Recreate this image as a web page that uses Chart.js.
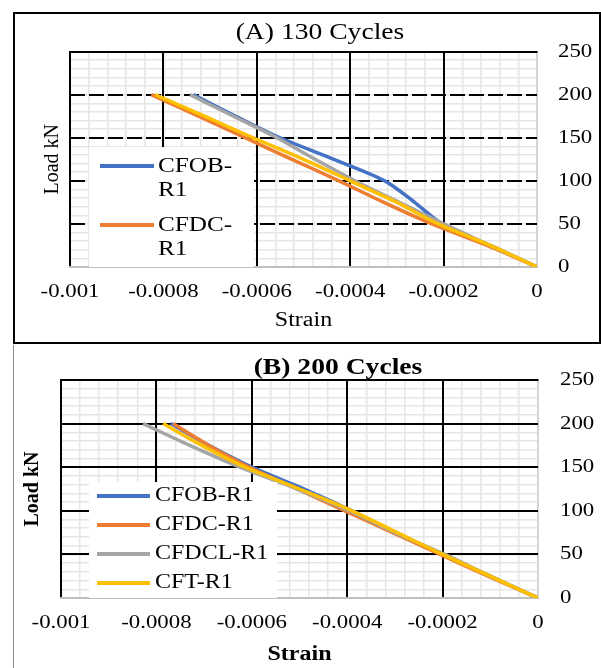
<!DOCTYPE html>
<html lang="en">
<head>
<meta charset="UTF-8">
<title>Load - Strain</title>
<script src="https://cdn.jsdelivr.net/npm/chart.js@4.4.1/dist/chart.umd.min.js"></script>
<style>
  body { margin: 0; width: 601px; height: 668px; overflow: hidden; background: #fff; position: relative; }
  canvas, .frame { position: absolute; }
  #frameA { left: 13px; top: 12px; width: 588px; height: 332px; border: 2px solid #000; box-sizing: border-box; }
  #frameB { left: 13px; top: 345px; width: 588px; height: 330px; border-left: 1px solid #8c8c8c; box-sizing: border-box; }
  #chartA { left: 0; top: 0; }
  #chartB { left: 0; top: 343px; }
</style>
</head>
<body>
<div class="frame" id="frameA"></div>
<div class="frame" id="frameB"></div>
<canvas id="chartA" width="610" height="343"></canvas>
<canvas id="chartB" width="666" height="325"></canvas>
<script>
// series names, in legend order
const seriesNames = ['CFOB-R1', 'CFDC-R1', 'CFDCL-R1', 'CFT-R1'];
const seriesColors = ['#4472C4', '#ED7D31', '#A5A5A5', '#FFC000'];

// load steps (kN) shared by all curves
const loads = [0, 25, 50, 75, 100, 125, 150, 175, 200];

// (A) 130 cycles - strain at each load step
const strainA_CFOB  = [0, -0.0001,  -0.000203, -0.000262, -0.000326, -0.000435, -0.00055,  -0.000645, -0.000736];
const strainA_CFDC  = [0, -0.000107, -0.000225, -0.000328, -0.000424, -0.000525, -0.000625, -0.000725, -0.000826];
const strainA_CFDCL = [0, -0.0001,  -0.0002,   -0.000295, -0.00039,  -0.000475, -0.000557, -0.00065,  -0.000743];
const strainA_CFT   = [0, -0.0001,  -0.000212, -0.0003,   -0.0004,   -0.0005,   -0.000608, -0.000712, -0.000818];

// (B) 200 cycles
const strainB_CFOB  = [0, -0.0001,  -0.0002,   -0.0003,   -0.00039,  -0.00049,  -0.0006,   -0.00069,  -0.00077];
const strainB_CFDC  = [0, -0.000105, -0.000205, -0.000305, -0.000405, -0.000505, -0.000605, -0.00069,  -0.000765];
const strainB_CFDCL = [0, -0.0001,  -0.000195, -0.0003,   -0.000395, -0.000505, -0.000625, -0.00073,  -0.000828];
const strainB_CFT   = [0, -0.0001,  -0.0002,   -0.000295, -0.00039,  -0.0005,   -0.000614, -0.000705, -0.000786];

const xTickLabels = ['-0.001', '-0.0008', '-0.0006', '-0.0004', '-0.0002', '0'];
const yTickLabels = ['0', '50', '100', '150', '200', '250'];

const serif = "'Liberation Serif', 'Times New Roman', serif";

// the source figure is stretched sideways: widen horizontal text the same way
const textStretch = {
  id: 'textStretch',
  beforeInit(chart) {
    const ctx = chart.ctx;
    const orig = ctx.fillText.bind(ctx);
    ctx.fillText = function (text, x, y, maxWidth) {
      const m = ctx.getTransform();
      if (m.b !== 0 || m.c !== 0) return orig(text, x, y, maxWidth);
      ctx.save();
      ctx.translate(x, y);
      ctx.scale(1.2, 1);
      if (maxWidth === undefined) orig(text, 0, 0); else orig(text, 0, 0, maxWidth);
      ctx.restore();
    };
  }
};

// legend drawn inside the plot, clipped by the plot edges
const insideLegend = {
  id: 'insideLegend',
  afterDatasetsDraw(chart, args, o) {
    const { ctx, chartArea: a } = chart;
    ctx.save();
    ctx.beginPath();
    ctx.rect(a.left, a.top, a.right - a.left, a.bottom - a.top);
    ctx.clip();
    ctx.fillStyle = '#fff';
    ctx.fillRect(o.x, o.y, o.w, o.h);
    ctx.font = o.font;
    ctx.textBaseline = 'middle';
    ctx.textAlign = 'left';
    seriesNames.forEach((name, i) => {
      const y = o.y + o.first + i * o.step;
      ctx.strokeStyle = seriesColors[i];
      ctx.lineWidth = 4;
      ctx.beginPath();
      ctx.moveTo(o.x + o.lineStart, y);
      ctx.lineTo(o.x + o.lineEnd, y);
      ctx.stroke();
      ctx.fillStyle = '#000';
      const parts = o.wrap ? name.split(/(?<=-)/) : [name];
      parts.forEach((t, j) => ctx.fillText(t, o.x + o.textX, y + j * o.lineGap));
    });
    ctx.restore();
  }
};

function makeChart(id, strains, o) {
  const datasets = strains.map((s, i) => ({
    label: seriesNames[i],
    data: s.map((v, k) => ({ x: v, y: loads[k] })),
    borderColor: seriesColors[i],
    backgroundColor: seriesColors[i],
    borderWidth: 3.5,
    pointRadius: 0,
    showLine: true,
    tension: 0.3,
    order: 4 - i
  }));
  const minorGrid = { color: '#e6e6e6', lineWidth: 1.5, drawTicks: false, z: -2 };
  return new Chart(document.getElementById(id), {
    type: 'scatter',
    data: { datasets },
    options: {
      responsive: false,
      animation: false,
      layout: { padding: { left: o.padLeft, right: 0, top: 0, bottom: 0 } },
      scales: {
        x: {
          type: 'linear', position: 'bottom', min: -0.001, max: 0,
          afterFit: s => { s.height = o.xHeight; },
          ticks: { stepSize: 0.0002, padding: o.xTickPad, color: '#000', autoSkip: false, maxRotation: 0,
                   font: { family: serif, size: 19 }, callback: (v, i) => xTickLabels[i] },
          grid: { color: c => c.index === 5 ? '#d4d4d4' : '#000', lineWidth: 2, drawTicks: false },
          border: { display: true, color: '#bfbfbf', width: 2 },
          title: { display: true, text: 'Strain', color: '#000', padding: { top: 0, bottom: o.xTitlePad },
                   font: { family: serif, size: o.axisTitleSize, weight: o.weight } }
        },
        y: {
          type: 'linear', position: 'right', min: 0, max: 250,
          afterFit: s => { s.width = o.yWidth; },
          ticks: { stepSize: 50, padding: o.yTickPad, color: '#000',
                   font: { family: serif, size: 19 }, callback: (v, i) => yTickLabels[i] },
          grid: { color: c => (c.index === 0 || c.index === 5) ? 'rgba(0,0,0,0)' : '#000', lineWidth: 2, drawTicks: false },
          border: { display: false, dash: o.hDash }
        },
        xMinor: {
          type: 'linear', position: 'top', min: -0.001, max: 0,
          afterFit: s => { s.height = 0; },
          ticks: { display: false, stepSize: 0.00004, autoSkip: false },
          grid: minorGrid,
          border: { display: true, color: '#000', width: 2 }
        },
        yMinor: {
          type: 'linear', position: 'left', min: 0, max: 250,
          afterFit: s => { s.width = o.yMinorWidth; },
          ticks: { display: false, stepSize: 10, autoSkip: false },
          grid: minorGrid,
          border: { display: false },
          title: { display: true, text: 'Load kN', color: '#000', padding: { top: o.yTitlePad, bottom: 0 },
                   font: { family: serif, size: o.axisTitleSize, weight: o.weight } }
        }
      },
      plugins: {
        legend: { display: false },
        tooltip: { enabled: false },
        title: {
          display: true, text: o.title, color: '#000',
          font: { family: serif, size: 23, weight: o.weight, lineHeight: o.titleLH },
          padding: o.titlePad
        },
        insideLegend: o.legend
      }
    },
    plugins: [textStretch, insideLegend]
  });
}

makeChart('chartA', [strainA_CFOB, strainA_CFDC, strainA_CFDCL, strainA_CFT], {
  title: '(A) 130 Cycles', weight: 'normal', titleLH: 1.2, titlePad: { top: 19, bottom: 5 },
  padLeft: 30, yMinorWidth: 40, yWidth: 73, xHeight: 76,
  xTickPad: 14, xTitlePad: 10, yTickPad: 21, yTitlePad: 11, axisTitleSize: 20,
  hDash: [15, 4],
  legend: { x: 89, y: 147, w: 165, h: 140, first: 19, step: 59, lineGap: 24, lineStart: 11, lineEnd: 65, textX: 69,
            wrap: true, font: "21px " + serif }
});

makeChart('chartB', [strainB_CFOB, strainB_CFDC, strainB_CFDCL, strainB_CFT], {
  title: '(B) 200 Cycles', weight: 'bold', titleLH: 1, titlePad: { top: 14, bottom: 0 },
  padLeft: 10, yMinorWidth: 51, yWidth: 128, xHeight: 70,
  xTickPad: 14, xTitlePad: 1, yTickPad: 22, yTitlePad: 11, axisTitleSize: 20,
  hDash: [],
  legend: { x: 89, y: 139, w: 188, h: 120, first: 14, step: 29, lineGap: 0, lineStart: 8, lineEnd: 61, textX: 66,
            wrap: false, font: "20px " + serif }
});
</script>
</body>
</html>
